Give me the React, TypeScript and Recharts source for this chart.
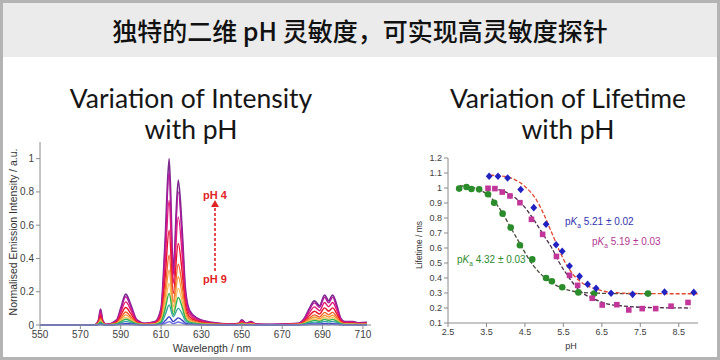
import React from 'react';
import { LineChart, Line, XAxis, YAxis, ComposedChart, Scatter } from 'recharts';

// emission spectra (normalised), sampled wavelengths in nm
const wavelengths = [550, 577, 579, 580, 581, 583, 588, 590, 592.5, 595, 598, 602, 607, 610, 612, 614, 616, 618.5, 620.5, 622, 624, 628, 635, 645, 648.5, 650, 652, 654.5, 657, 665, 678, 681, 683.5, 686, 688.5, 691, 693, 695, 697, 699, 701, 705, 708, 712];

const curvePh4 = [0, 0, 0.03, 0.095, 0.03, 0.003, 0.03, 0.1, 0.185, 0.12, 0.03, 0.01, 0.02, 0.1, 0.5, 1.0, 0.33, 0.87, 0.55, 0.22, 0.09, 0.04, 0.015, 0.005, 0.01, 0.03, 0.01, 0.02, 0.005, 0.003, 0.01, 0.04, 0.1, 0.145, 0.115, 0.18, 0.145, 0.18, 0.12, 0.04, 0.02, 0.02, 0.012, 0.015];
const curve2 = [0, 0, 0.028, 0.087, 0.028, 0.003, 0.028, 0.092, 0.17, 0.11, 0.028, 0.009, 0.018, 0.092, 0.46, 0.92, 0.3, 0.8, 0.51, 0.2, 0.083, 0.037, 0.014, 0.005, 0.009, 0.028, 0.009, 0.018, 0.005, 0.003, 0.009, 0.037, 0.092, 0.133, 0.106, 0.166, 0.133, 0.166, 0.11, 0.037, 0.018, 0.018, 0.011, 0.014];
const curve3 = [0, 0, 0.022, 0.071, 0.022, 0.002, 0.022, 0.075, 0.139, 0.09, 0.022, 0.008, 0.015, 0.075, 0.375, 0.75, 0.25, 0.65, 0.41, 0.165, 0.068, 0.03, 0.011, 0.004, 0.008, 0.022, 0.008, 0.015, 0.004, 0.002, 0.008, 0.03, 0.075, 0.109, 0.086, 0.135, 0.109, 0.135, 0.09, 0.03, 0.015, 0.015, 0.009, 0.011];
const curve4 = [0, 0, 0.017, 0.054, 0.017, 0.002, 0.017, 0.057, 0.105, 0.068, 0.017, 0.006, 0.011, 0.057, 0.285, 0.57, 0.19, 0.49, 0.31, 0.125, 0.051, 0.023, 0.009, 0.003, 0.006, 0.017, 0.006, 0.011, 0.003, 0.002, 0.006, 0.023, 0.057, 0.083, 0.066, 0.103, 0.083, 0.103, 0.068, 0.023, 0.011, 0.011, 0.007, 0.009];
const curve5 = [0, 0, 0.013, 0.04, 0.013, 0.001, 0.013, 0.042, 0.078, 0.05, 0.013, 0.004, 0.008, 0.042, 0.21, 0.42, 0.14, 0.365, 0.23, 0.092, 0.038, 0.017, 0.006, 0.002, 0.004, 0.013, 0.004, 0.008, 0.002, 0.001, 0.004, 0.017, 0.042, 0.061, 0.048, 0.076, 0.061, 0.076, 0.05, 0.017, 0.008, 0.008, 0.005, 0.006];
const curve6 = [0, 0, 0.01, 0.031, 0.01, 0.001, 0.01, 0.033, 0.061, 0.04, 0.01, 0.003, 0.007, 0.033, 0.165, 0.33, 0.11, 0.29, 0.18, 0.073, 0.03, 0.013, 0.005, 0.002, 0.003, 0.01, 0.003, 0.007, 0.002, 0.001, 0.003, 0.013, 0.033, 0.048, 0.038, 0.059, 0.048, 0.059, 0.04, 0.013, 0.007, 0.007, 0.004, 0.005];
const curve7 = [0, 0, 0.008, 0.024, 0.008, 0.001, 0.008, 0.025, 0.046, 0.03, 0.008, 0.003, 0.005, 0.025, 0.125, 0.25, 0.083, 0.22, 0.138, 0.055, 0.023, 0.01, 0.004, 0.001, 0.003, 0.008, 0.003, 0.005, 0.001, 0.001, 0.003, 0.01, 0.025, 0.036, 0.029, 0.045, 0.036, 0.045, 0.03, 0.01, 0.005, 0.005, 0.003, 0.004];
const curve8 = [0, 0, 0.006, 0.018, 0.006, 0.001, 0.006, 0.019, 0.035, 0.023, 0.006, 0.002, 0.004, 0.019, 0.095, 0.19, 0.063, 0.165, 0.105, 0.042, 0.017, 0.008, 0.003, 0.001, 0.002, 0.006, 0.002, 0.004, 0.001, 0.001, 0.002, 0.008, 0.019, 0.028, 0.022, 0.034, 0.028, 0.034, 0.023, 0.008, 0.004, 0.004, 0.002, 0.003];
const curve9 = [0, 0, 0.004, 0.011, 0.004, 0, 0.004, 0.012, 0.022, 0.014, 0.004, 0.001, 0.002, 0.012, 0.06, 0.12, 0.05, 0.1, 0.066, 0.026, 0.011, 0.005, 0.002, 0.001, 0.001, 0.004, 0.001, 0.002, 0.001, 0, 0.001, 0.005, 0.012, 0.017, 0.014, 0.022, 0.017, 0.022, 0.014, 0.005, 0.002, 0.002, 0.001, 0.002];
const curve10 = [0, 0, 0.002, 0.005, 0.002, 0, 0.002, 0.005, 0.009, 0.006, 0.002, 0.001, 0.001, 0.005, 0.025, 0.05, 0.02, 0.043, 0.028, 0.011, 0.005, 0.002, 0.001, 0, 0.001, 0.002, 0.001, 0.001, 0, 0, 0.001, 0.002, 0.005, 0.007, 0.006, 0.009, 0.007, 0.009, 0.006, 0.002, 0.001, 0.001, 0.001, 0.001];
const curvePh9 = [0, 0, 0.001, 0.002, 0.001, 0, 0.001, 0.002, 0.004, 0.002, 0.001, 0, 0, 0.002, 0.01, 0.02, 0.008, 0.018, 0.011, 0.004, 0.002, 0.001, 0, 0, 0, 0.001, 0, 0, 0, 0, 0, 0.001, 0.002, 0.003, 0.002, 0.004, 0.003, 0.004, 0.002, 0.001, 0, 0, 0, 0];

const spectrumColors = ['#7b2a8e', '#b3189c', '#e01a78', '#e8142c', '#f2602a', '#f59a3c', '#f7bf5c', '#2fb44a', '#3aa6a0', '#3a44c4', '#6c6ce6'];
const spectra = [curvePh4, curve2, curve3, curve4, curve5, curve6, curve7, curve8, curve9, curve10, curvePh9];

const spectrumRows = wavelengths.map((w, i) => {
  const row: Record<string, number> = { w };
  spectra.forEach((s, k) => { row['c' + k] = s[i]; });
  return row;
});

const wlTicks = [550, 570, 590, 610, 630, 650, 670, 690, 710];
const intensityTicks = [0, 0.2, 0.4, 0.6, 0.8, 1];

// lifetime vs pH: [pH, ms]
const bluePoints = [[3.57, 1.078], [3.8, 1.078], [4.05, 1.067], [4.39, 0.99], [4.73, 0.869], [5.05, 0.758], [5.31, 0.622], [5.47, 0.578], [5.66, 0.48], [5.92, 0.411], [6.13, 0.358], [6.35, 0.331], [6.74, 0.298], [7.3, 0.291], [8.13, 0.307], [8.89, 0.304]];
const magentaPoints = [[3.54, 0.998], [3.72, 0.996], [3.91, 0.973], [4.11, 0.947], [4.37, 0.902], [4.67, 0.791], [4.96, 0.691], [5.32, 0.544], [5.66, 0.418], [5.87, 0.351], [6.25, 0.265], [6.51, 0.22], [6.89, 0.222], [7.2, 0.187], [7.55, 0.196], [7.9, 0.196], [8.3, 0.212], [8.74, 0.237]];
const greenPoints = [[2.79, 0.996], [2.98, 1.007], [3.11, 0.993], [3.31, 0.991], [3.54, 0.958], [3.7, 0.902], [3.92, 0.829], [4.13, 0.736], [4.37, 0.618], [4.69, 0.524], [5.05, 0.4], [5.2, 0.378], [5.47, 0.338], [5.89, 0.304], [6.3, 0.296], [7.7, 0.296]];

const blueFit = [[3.6, 1.085], [3.9, 1.08], [4.2, 1.06], [4.5, 1.01], [4.8, 0.92], [5.0, 0.82], [5.2, 0.7], [5.4, 0.58], [5.6, 0.48], [5.8, 0.41], [6.0, 0.365], [6.3, 0.33], [6.6, 0.31], [7.0, 0.3], [7.6, 0.296], [8.4, 0.295], [9.0, 0.295]];
const magentaFit = [[3.5, 1.0], [3.8, 0.99], [4.1, 0.96], [4.4, 0.9], [4.7, 0.8], [5.0, 0.68], [5.2, 0.6], [5.4, 0.5], [5.6, 0.42], [5.8, 0.35], [6.0, 0.3], [6.3, 0.26], [6.6, 0.23], [7.0, 0.215], [7.5, 0.205], [8.0, 0.202], [8.8, 0.2]];
const greenFit = [[2.8, 1.015], [3.0, 1.01], [3.3, 0.99], [3.6, 0.94], [3.9, 0.84], [4.1, 0.75], [4.3, 0.66], [4.5, 0.57], [4.7, 0.49], [4.9, 0.43], [5.1, 0.385], [5.4, 0.34], [5.7, 0.315], [6.0, 0.303], [6.5, 0.298], [7.0, 0.296], [7.8, 0.295]];

const phTicks = [2.5, 3.5, 4.5, 5.5, 6.5, 7.5, 8.5];
const lifetimeTicks = [0.1, 0.2, 0.3, 0.4, 0.5, 0.6, 0.7, 0.8, 0.9, 1, 1.1, 1.2];

const toXY = (pts: number[][]) => pts.map(([x, y]) => ({ x, y }));

const axisColor = '#8c8c8c';
const sans = '"Liberation Sans", Arial, sans-serif';

const Diamond = (p: any) => (
  <path d={`M${p.cx},${p.cy - 3.8}L${p.cx + 3.4},${p.cy}L${p.cx},${p.cy + 3.8}L${p.cx - 3.4},${p.cy}Z`} fill="#2222c2" />
);
const Square = (p: any) => <rect x={p.cx - 2.8} y={p.cy - 2.8} width={5.6} height={5.6} fill="#c2369a" />;
const Dot = (p: any) => <circle cx={p.cx} cy={p.cy} r={3.3} fill="#2a8c2a" />;

const abs = (extra: React.CSSProperties): React.CSSProperties => ({ position: 'absolute', whiteSpace: 'nowrap', ...extra });

const PKa = ({ value, color, left, top }: { value: string; color: string; left: number; top: number }) => (
  <div style={abs({ left, top, color, fontFamily: sans, fontSize: 10, lineHeight: '11px' })}>
    p<i>K</i><sub style={{ fontSize: 6.5 }}>a</sub> {value}
  </div>
);

const panelTitle: React.CSSProperties = {
  top: 80, transform: 'translateX(-50%)', textAlign: 'center', fontFamily: 'Lato, sans-serif',
  fontWeight: 400, fontSize: 26.5, lineHeight: '31px', color: '#161616',
};

export default function App() {
  return (
    <div style={{ position: 'absolute', left: 0, top: 0, width: 720, height: 360, background: '#fff', boxSizing: 'border-box', border: '3px solid #b4b4b4', overflow: 'hidden' }}>
      <div style={abs({ left: 0, top: 0, width: 714, height: 54, background: '#ebebeb' })} />
      <div style={abs({ left: 357, top: 27, transform: 'translate(-50%,-50%)', fontFamily: '"Noto Sans CJK SC", sans-serif', fontWeight: 500, fontSize: 25, color: '#111' })}>
        独特的二维 pH 灵敏度，可实现高灵敏度探针
      </div>

      <div style={abs({ left: 188, ...panelTitle })}>
        Variation of Intensity<br />with pH
      </div>
      <div style={abs({ left: 565, ...panelTitle })}>
        Variation of Lifetime<br />with pH
      </div>

      <div style={abs({ left: -3, top: -3 })}>
        <LineChart width={380} height={360} data={spectrumRows} margin={{ top: 142, right: 9, bottom: 10, left: 10 }}>
          <XAxis dataKey="w" type="number" domain={[550, 714]} ticks={wlTicks} allowDataOverflow height={25} interval={0}
            stroke={axisColor} tickSize={4} tick={{ fontSize: 10, fill: '#404040', fontFamily: sans }} />
          <YAxis type="number" domain={[0, 1.1]} ticks={intensityTicks} width={30} interval={0}
            stroke={axisColor} tickSize={4} tick={{ fontSize: 10, fill: '#404040', fontFamily: sans }} />
          {spectra.map((_, k) => (
            <Line key={k} dataKey={'c' + k} type="monotone" stroke={spectrumColors[k]} strokeWidth={k === 0 ? 1.8 : 1.4}
              dot={false} isAnimationActive={false} />
          ))}
        </LineChart>
      </div>

      <div style={abs({ left: 377, top: -3 })}>
        <ComposedChart width={340} height={360} margin={{ top: 158, right: 22, bottom: 12, left: 28 }}>
          <XAxis dataKey="x" type="number" domain={[2.5, 9]} ticks={phTicks} allowDataOverflow height={25} interval={0}
            stroke={axisColor} tickSize={4} tick={{ fontSize: 9, fill: '#404040', fontFamily: sans }} />
          <YAxis dataKey="y" type="number" domain={[0.1, 1.2]} ticks={lifetimeTicks} width={40} interval={0}
            stroke={axisColor} tickSize={4} tick={{ fontSize: 9, fill: '#404040', fontFamily: sans }} />
          <Line data={toXY(greenFit)} dataKey="y" type="monotone" stroke="#4a4a3a" strokeWidth={1.3} strokeDasharray="4 2" dot={false} isAnimationActive={false} />
          <Line data={toXY(magentaFit)} dataKey="y" type="monotone" stroke="#4a2c4a" strokeWidth={1.3} strokeDasharray="4 2" dot={false} isAnimationActive={false} />
          <Line data={toXY(blueFit)} dataKey="y" type="monotone" stroke="#e0472e" strokeWidth={1.3} strokeDasharray="4 2" dot={false} isAnimationActive={false} />
          <Scatter data={toXY(greenPoints)} shape={Dot} isAnimationActive={false} />
          <Scatter data={toXY(magentaPoints)} shape={Square} isAnimationActive={false} />
          <Scatter data={toXY(bluePoints)} shape={Diamond} isAnimationActive={false} />
        </ComposedChart>
      </div>

      {/* axis titles */}
      <div style={abs({ left: 10, top: 229, transform: 'translate(-50%,-50%) rotate(-90deg)', fontFamily: sans, fontSize: 10.5, color: '#333' })}>
        Normalised Emission Intensity / a.u.
      </div>
      <div style={abs({ left: 209, top: 345, transform: 'translate(-50%,-50%)', fontFamily: sans, fontSize: 10.5, color: '#333' })}>
        Wavelength / nm
      </div>
      <div style={abs({ left: 416, top: 242, transform: 'translate(-50%,-50%) rotate(-90deg)', fontFamily: sans, fontSize: 8.5, color: '#333' })}>
        Lifetime / ms
      </div>
      <div style={abs({ left: 568, top: 343, transform: 'translate(-50%,-50%)', fontFamily: sans, fontSize: 9, color: '#333' })}>
        pH
      </div>

      {/* pH arrow annotation */}
      <div style={abs({ left: 200, top: 186, fontFamily: sans, fontWeight: 700, fontSize: 11, color: '#e02424' })}>pH 4</div>
      <div style={abs({ left: 200, top: 270, fontFamily: sans, fontWeight: 700, fontSize: 11, color: '#e02424' })}>pH 9</div>
      <svg style={abs({ left: 206, top: 196 })} width={12} height={74}>
        <line x1={6} y1={72} x2={6} y2={7} stroke="#e02424" strokeWidth={1.6} strokeDasharray="3 2" />
        <path d="M2,8 L6,1 L10,8 Z" fill="#e02424" />
      </svg>

      <PKa value="5.21 ± 0.02" color="#3434b0" left={562} top={213} />
      <PKa value="5.19 ± 0.03" color="#b23892" left={589} top={233} />
      <PKa value="4.32 ± 0.03" color="#2e8a2e" left={454} top={251} />
    </div>
  );
}
